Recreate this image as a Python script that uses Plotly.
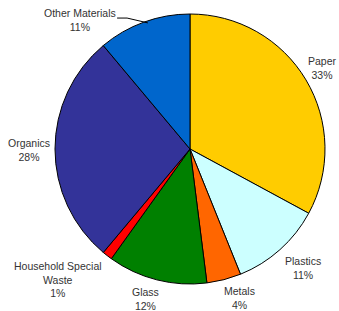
import math
import plotly.graph_objects as go

categories = ["Paper", "Plastics", "Metals", "Glass", "Household Special Waste", "Organics", "Other Materials"]
display_labels = ["Paper", "Plastics", "Metals", "Glass", "Household Special<br>Waste", "Organics", "Other Materials"]
values = [32.9, 11.0, 4.1, 11.9, 1.2, 27.8, 11.1]
colors = ["#FFCC00", "#CCFFFF", "#FF6600", "#008000", "#FF0000", "#333399", "#0066CC"]

# label centre positions (paper coordinates of the pie domain)
label_x = [0.989, 0.919, 0.685, 0.337, 0.011, -0.096, 0.093]
label_y = [0.800, 0.059, -0.052, -0.056, 0.015, 0.496, 0.978]

total = sum(values)
pct_text = [f"{round(v / total * 100):d}%" for v in values]

fig = go.Figure(go.Pie(
    labels=categories,
    values=values,
    textinfo="none",
    sort=False,
    direction="clockwise",
    rotation=0,
    marker=dict(colors=colors, line=dict(color="black", width=1)),
    showlegend=False,
    automargin=False,
    hovertemplate="%{label}: %{percent:.0%}<extra></extra>",
))

for lab, pct, x, y in zip(display_labels, pct_text, label_x, label_y):
    fig.add_annotation(
        x=x, y=y, xref="paper", yref="paper",
        text=f"{lab}<br>{pct}", showarrow=False,
        xanchor="center", yanchor="middle", align="center",
        font=dict(family="Liberation Sans, Arial, sans-serif", size=10.5, color="#333333"),
    )

# leader line for "Other Materials"
fig.add_shape(
    type="path", xref="paper", yref="paper",
    path="M 0.230 0.985 L 0.267 0.985 L 0.344 0.967",
    line=dict(color="black", width=1),
)

fig.update_layout(
    width=339, height=311,
    margin=dict(l=55, r=14, t=14, b=27),
    paper_bgcolor="white",
    plot_bgcolor="white",
)
fig.write_html("out.html", config={"displayModeBar": False})

with open("out.html", "r", encoding="utf-8") as f:
    html = f.read()
html = html.replace("<head>", "<head><style>html,body{margin:0;padding:0;overflow:hidden;}</style>", 1)
with open("out.html", "w", encoding="utf-8") as f:
    f.write(html)
